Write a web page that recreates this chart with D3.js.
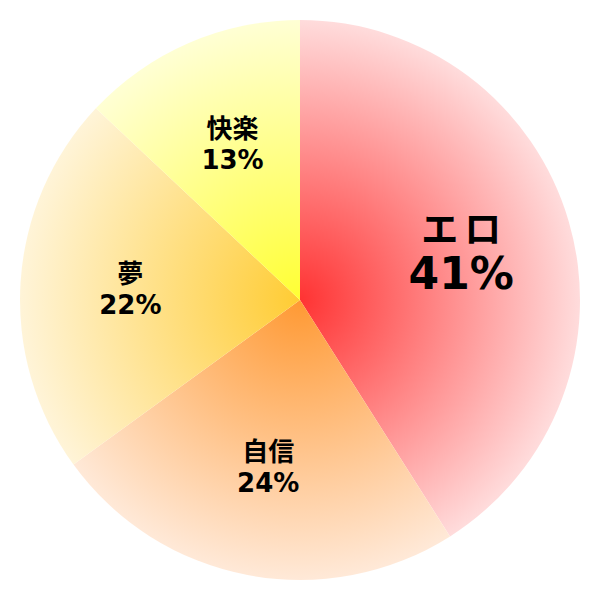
<!DOCTYPE html>
<html>
<head>
<meta charset="utf-8">
<script src="https://cdn.jsdelivr.net/npm/d3@7"></script>
<style>
  body { margin: 0; background: #fff; }
  text { font-family: "DejaVu Sans", "Noto Sans CJK JP", sans-serif; font-weight: bold; fill: #000; }
</style>
</head>
<body>
<div id="chart"></div>
<script>
const WIDTH = 600;
const HEIGHT = 600;
const RADIUS = 280;

// data
const labels = ["エロ", "自信", "夢", "快楽"];
const values = [41, 24, 22, 13];
const centerColors = ["#ff3333", "#ff9933", "#ffcc33", "#ffff33"];
const edgeColors = ["#ffdcdc", "#ffe9d8", "#fff4d8", "#ffffd4"];

const svg = d3.select("#chart")
  .append("svg")
    .attr("width", WIDTH)
    .attr("height", HEIGHT);

// one radial gradient per slice, centred on the pie centre
const defs = svg.append("defs");
labels.forEach((l, i) => {
  const g = defs.append("radialGradient")
    .attr("id", "grad" + i)
    .attr("gradientUnits", "userSpaceOnUse")
    .attr("cx", 0).attr("cy", 0).attr("r", RADIUS);
  g.append("stop").attr("offset", "0%").attr("stop-color", centerColors[i]);
  g.append("stop").attr("offset", "100%").attr("stop-color", edgeColors[i]);
});

const pie = d3.pie().sort(null).value(d => d);
const arcs = pie(values);

const arc = d3.arc().innerRadius(0).outerRadius(RADIUS);
const labelArc = d3.arc().innerRadius(170).outerRadius(170);

const g = svg.append("g")
  .attr("transform", "translate(" + WIDTH / 2 + "," + HEIGHT / 2 + ")");

g.selectAll("path")
  .data(arcs)
  .enter()
  .append("path")
    .attr("d", arc)
    .attr("fill", (d, i) => "url(#grad" + i + ")");

// labels: the biggest slice gets bigger text
const lab = g.selectAll(".label")
  .data(arcs)
  .enter()
  .append("g")
    .attr("class", "label")
    .attr("transform", d => "translate(" + labelArc.centroid(d) + ")");

lab.append("text")
  .attr("text-anchor", "middle")
  .attr("x", (d, i) => i === 0 ? 1 : 0)
  .attr("y", (d, i) => i === 0 ? -10 : -6)
  .attr("font-size", (d, i) => i === 0 ? 37 : 26)
  .attr("letter-spacing", (d, i) => i === 0 ? 6 : 0)
  .text((d, i) => labels[i]);

lab.append("text")
  .attr("text-anchor", "middle")
  .attr("x", (d, i) => i === 0 ? -2 : 0)
  .attr("y", (d, i) => i === 0 ? 36 : 25)
  .attr("font-size", (d, i) => i === 0 ? 44 : 26)
  .text(d => d.data + "%");
</script>
</body>
</html>
